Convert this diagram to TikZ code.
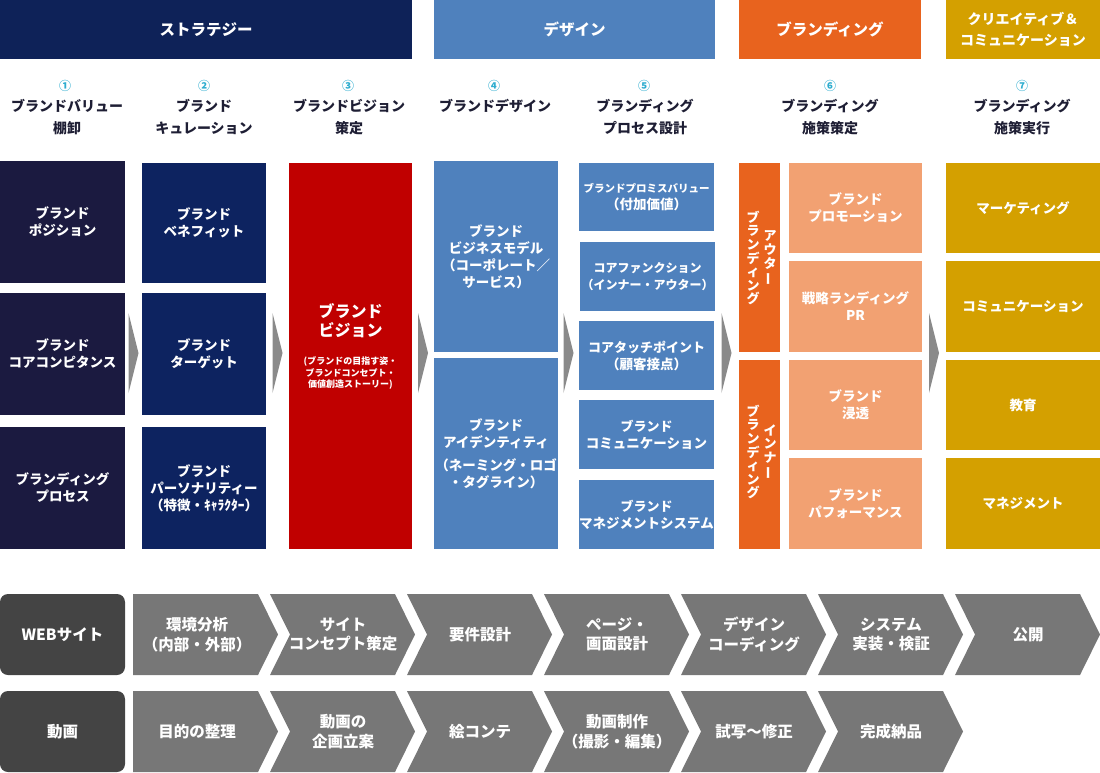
\documentclass[tikz,border=0pt]{standalone}
\usepackage{fontspec}
\setmainfont{Noto Sans CJK JP}
\usetikzlibrary{calc}
\definecolor{navyH}{HTML}{0E2258}
\definecolor{navyB}{HTML}{0D2360}
\definecolor{darkB}{HTML}{1B1A40}
\definecolor{blueC}{HTML}{4F81BD}
\definecolor{orangeC}{HTML}{E8631E}
\definecolor{salmonC}{HTML}{F2A172}
\definecolor{goldC}{HTML}{D4A000}
\definecolor{redC}{HTML}{C00000}
\definecolor{triC}{HTML}{8A8A8A}
\definecolor{chevC}{HTML}{777777}
\definecolor{lblC}{HTML}{444444}
\definecolor{cyanC}{HTML}{2EADCF}
\definecolor{labC}{HTML}{1E1E34}
\newcommand\bx[7]{\node[bx,fill=#6,minimum width={#4-#2},minimum height={#5-#3}] (#1) at ({(#2+#4)/2},{(#3+#5)/2}) {#7};}
\newcommand\vb{\rotatebox[origin=c]{90}{ー}}
\newcommand\chevF[4]{\fill[chevC] (#2,#3) -- ++(125,0) -- ++(20,40.5) -- ++(-20,40.5) -- ++(-125,0) -- cycle;
  \node[ctext] (#1) at ({#2+64},{#3+40.5}) {#4};}
\newcommand\chevN[4]{\fill[chevC] (#2,#3) -- ++(125,0) -- ++(20,40.5) -- ++(-20,40.5) -- ++(-125,0) -- ++(20,-40.5) -- cycle;
  \node[ctext] (#1) at ({#2+73},{#3+40.5}) {#4};}
\newcommand\tri[2]{\path ($(#1.east)!0.5!(#2.west)$) coordinate (m#1);
  \fill[triC] ($(m#1 |- ymid)+(-5,-40)$) -- ($(m#1 |- ymid)+(5,0)$) -- ($(m#1 |- ymid)+(-5,40)$) -- cycle;}
\begin{document}
\begin{tikzpicture}[x=1pt,y=-1pt,
  bx/.style={rectangle,inner sep=0pt,outer sep=0pt,text=white,align=center,font=\bfseries\fontsize{13.5}{17}\selectfont},
  hd/.style={text=white,align=center,font=\bfseries\fontsize{15.5}{21}\selectfont},
  num/.style={text=cyanC,font=\bfseries\fontsize{12}{14}\selectfont},
  clab/.style={text=labC,align=center,font=\bfseries\fontsize{14}{22}\selectfont},
  vt/.style={text=white,align=center,inner sep=0pt,font=\bfseries\fontsize{13}{13.6}\selectfont},
  ctext/.style={text=white,align=center,font=\bfseries\fontsize{15.5}{19.5}\selectfont},
  lbl/.style={fill=lblC,rounded corners=8pt,minimum width=125,minimum height=81,inner sep=0pt,text=white,font=\bfseries\fontsize{15.5}{19.5}\selectfont}]
\useasboundingbox (0,0) rectangle (1100,772);
\coordinate (ymid) at (0,353);
% headers
\bx{h1}{0}{0}{412}{59}{navyH}{}
\bx{h2}{434}{0}{715}{59}{blueC}{}
\bx{h3}{739}{0}{921}{59}{orangeC}{}
\bx{h4}{946}{0}{1100}{59}{goldC}{}
\node[hd] (h1t) at (h1) {ストラテジー};
\node[hd] (h2t) at (h2) {デザイン};
\node[hd] (h3t) at (h3) {ブランディング};
\node[hd,font=\bfseries\fontsize{14}{21}\selectfont] (h4t) at (1023,29.5) {クリエイティブ＆\\コミュニケーション};
% column labels
\node[num] (n1) at (65,86) {①};
\node[num] (n2) at (204,86) {②};
\node[num] (n3) at (348,86) {③};
\node[num] (n4) at (494,86) {④};
\node[num] (n5) at (644,86) {⑤};
\node[num] (n6) at (830,86) {⑥};
\node[num] (n7) at (1022,86) {⑦};
\node[clab] (l1) at (67,117) {ブランドバリュー\\棚卸};
\node[clab] (l2) at (204,117) {ブランド\\キュレーション};
\node[clab] (l3) at (349,117) {ブランドビジョン\\策定};
\node[clab] (l4) at (495,106) {ブランドデザイン};
\node[clab] (l5) at (645,117) {ブランディング\\プロセス設計};
\node[clab] (l6) at (830,117) {ブランディング\\施策策定};
\node[clab] (l7) at (1022,117) {ブランディング\\施策実行};
% column 1
\bx{c1a}{0}{161}{125}{283}{darkB}{ブランド\\ポジション}
\bx{c1b}{0}{293}{125}{415}{darkB}{ブランド\\コアコンピタンス}
\bx{c1c}{0}{427}{125}{549}{darkB}{ブランディング\\プロセス}
% column 2
\bx{c2a}{142}{163}{266}{283}{navyB}{ブランド\\ベネフィット}
\bx{c2b}{142}{293}{266}{415}{navyB}{ブランド\\ターゲット}
\bx{c2c}{142}{427}{266}{549}{navyB}{ブランド\\パーソナリティー\\（特徴・ｷｬﾗｸﾀｰ）}
% column 3
\bx{c3}{289}{163}{412}{549}{redC}{}
\node[bx,font=\bfseries\fontsize{16}{19}\selectfont] (c3t) at (350.5,321) {ブランド\\ビジョン};
\node[bx,font=\bfseries\fontsize{9}{11.5}\selectfont] (c3s) at (350.5,373) {(ブランドの目指す姿・\\ブランドコンセプト・\\価値創造ストーリー)};
% column 4
\bx{c4a}{434}{161}{558}{352}{blueC}{ブランド\\ビジネスモデル\\（コーポレート／\\サービス）}
\bx{c4b}{434}{358}{558}{549}{blueC}{ブランド\\アイデンティティ\\[6pt]（ネーミング・ロゴ\\・タグライン）}
% column 5
\bx{c5a}{579}{163}{714}{231}{blueC}{\fontsize{10.5}{16}\selectfont ブランドプロミスバリュー\\（付加価値）}
\bx{c5b}{580}{242}{715}{311}{blueC}{}
\node[bx,font=\bfseries\fontsize{12}{17}\selectfont] (c5bt) at (c5b) {コアファンクション\\（インナー・アウター）};
\bx{c5c}{579}{321}{714}{390}{blueC}{\fontsize{13}{17}\selectfont コアタッチポイント\\（顧客接点）}
\bx{c5d}{579}{400}{714}{469}{blueC}{\fontsize{13}{17}\selectfont ブランド\\コミュニケーション}
\bx{c5e}{579}{480}{714}{549}{blueC}{\fontsize{13}{17}\selectfont ブランド\\マネジメントシステム}
% column 6
\bx{o1}{739}{163}{780}{352}{orangeC}{}
\bx{o2}{739}{360}{780}{549}{orangeC}{}
\node[vt] (o1r) at (770,258) {ア\\ウ\\タ\\\vb};
\node[vt] (o1l) at (753,258) {ブ\\ラ\\ン\\デ\\ィ\\ン\\グ};
\node[vt] (o2r) at (770,452) {イ\\ン\\ナ\\\vb};
\node[vt] (o2l) at (753,452) {ブ\\ラ\\ン\\デ\\ィ\\ン\\グ};
\bx{s1}{789}{163}{922}{253}{salmonC}{ブランド\\プロモーション}
\bx{s2}{789}{261}{922}{352}{salmonC}{戦略ランディング\\PR}
\bx{s3}{789}{360}{922}{450}{salmonC}{ブランド\\浸透}
\bx{s4}{789}{458}{922}{549}{salmonC}{ブランド\\パフォーマンス}
% column 7
\bx{g1}{946}{163}{1100}{253}{goldC}{マーケティング}
\bx{g2}{946}{261}{1100}{352}{goldC}{コミュニケーション}
\bx{g3}{946}{360}{1100}{450}{goldC}{教育}
\bx{g4}{946}{458}{1100}{549}{goldC}{マネジメント}
% arrows between columns
\tri{c1b}{c2b}
\tri{c2b}{c3}
\tri{c3}{c4a}
\tri{c4a}{c5c}
\tri{c5c}{o1}
\tri{s2}{g2}
% process rows
\node[lbl] (web) at (62.5,634.5) {WEBサイト};
\node[lbl] (mov) at (62.5,731.5) {動画};
\chevF{w1}{133}{594}{環境分析\\（内部・外部）}
\chevN{w2}{270}{594}{サイト\\コンセプト策定}
\chevN{w3}{407}{594}{要件設計}
\chevN{w4}{544}{594}{ページ・\\画面設計}
\chevN{w5}{681}{594}{デザイン\\コーディング}
\chevN{w6}{818}{594}{システム\\実装・検証}
\chevN{w7}{955}{594}{公開}
\chevF{v1}{133}{691}{目的の整理}
\chevN{v2}{270}{691}{動画の\\企画立案}
\chevN{v3}{407}{691}{絵コンテ}
\chevN{v4}{544}{691}{動画制作\\（撮影・編集）}
\chevN{v5}{681}{691}{試写〜修正}
\chevN{v6}{818}{691}{完成納品}
\end{tikzpicture}
\end{document}
